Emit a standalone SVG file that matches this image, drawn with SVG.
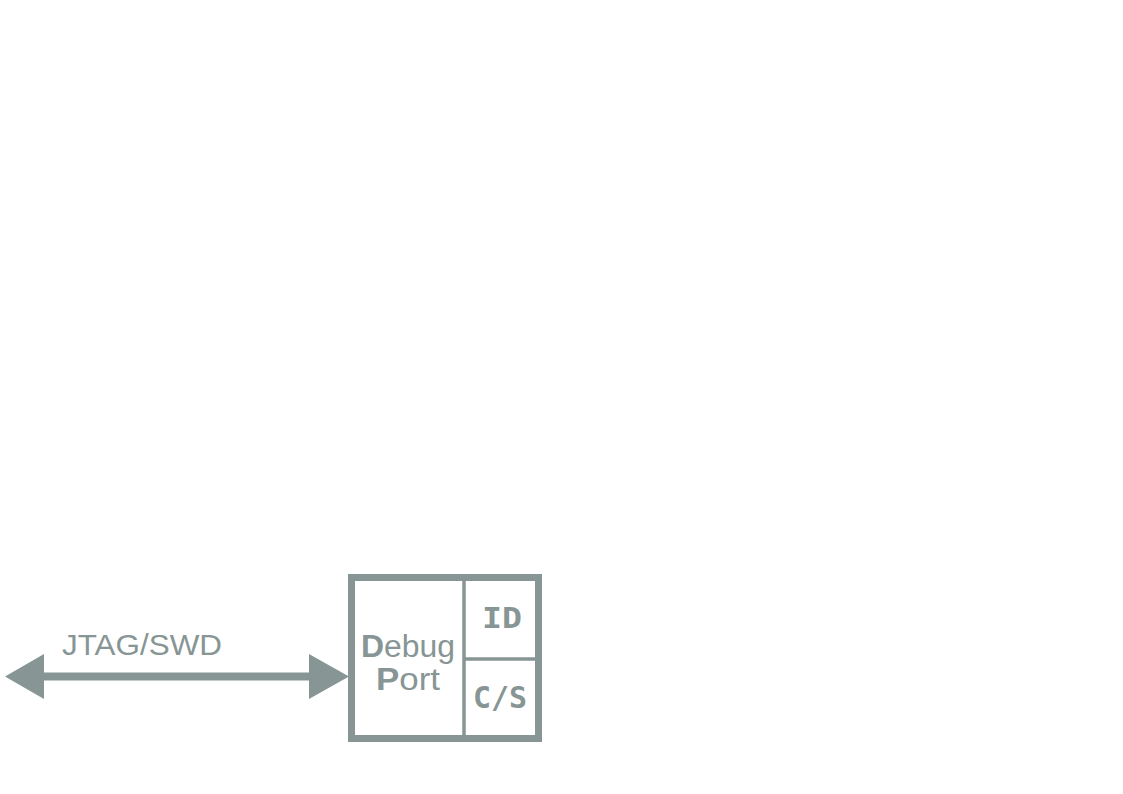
<svg xmlns="http://www.w3.org/2000/svg" width="1123" height="794" viewBox="0 0 1123 794">
<defs>
<style>
.ln{stroke:#879595;fill:none}
.t{fill:#879595;font-family:"Liberation Sans","DejaVu Sans",sans-serif}
.m{fill:#879595;font-family:"DejaVu Sans Mono","Liberation Mono",monospace;font-weight:bold}
</style>
</defs>
<rect width="1123" height="794" fill="#ffffff"/>
<g id="connectors">
<line class="ln" x1="40" y1="676.5" x2="314" y2="676.5" stroke-width="8"/>
<polygon points="5,676.5 44,654 44,699" fill="#879595"/>
<polygon points="349,676.5 309,654 309,699" fill="#879595"/>
<text class="t" x="62" y="655" font-size="30" textLength="160" lengthAdjust="spacingAndGlyphs">JTAG/SWD</text>
</g>
<g id="debug-port">
<rect class="ln" x="351.5" y="577.5" width="187" height="161" stroke-width="7"/>
<line class="ln" x1="464" y1="581" x2="464" y2="735" stroke-width="3.5"/>
<text class="t" x="361" y="657" font-size="31" textLength="94" lengthAdjust="spacingAndGlyphs"><tspan font-weight="bold">D</tspan>ebug</text>
<text class="t" x="376" y="690" font-size="31" textLength="64" lengthAdjust="spacingAndGlyphs"><tspan font-weight="bold">P</tspan>ort</text>
</g>
<g id="id">
<line class="ln" x1="464" y1="659" x2="535" y2="659" stroke-width="3.5"/>
<text class="m" x="482" y="628" font-size="28" textLength="40" lengthAdjust="spacingAndGlyphs">ID</text>
</g>
<g id="cs">
<text class="m" x="473" y="708" font-size="31" textLength="54" lengthAdjust="spacingAndGlyphs">C/S</text>
</g>
</svg>
